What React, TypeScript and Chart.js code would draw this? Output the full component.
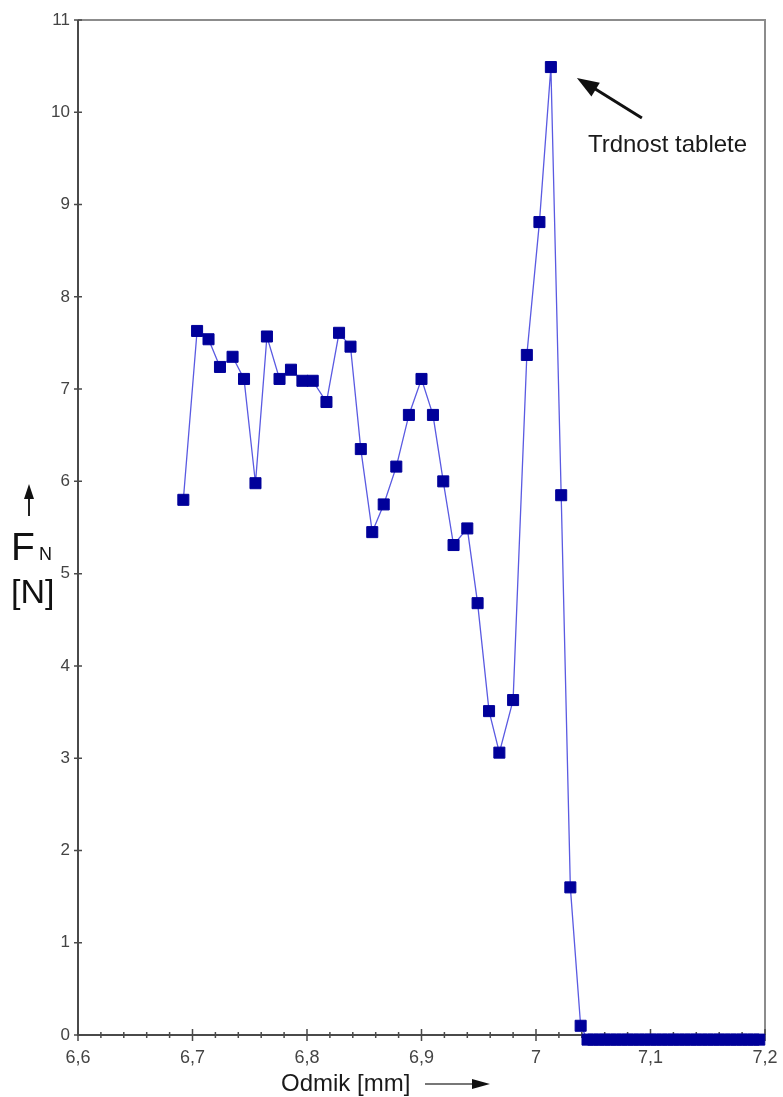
import React, { useEffect, useRef } from 'react';
import { Chart, registerables } from 'chart.js';

Chart.register(...registerables);

const FONT = '"Liberation Sans", Arial, Helvetica, sans-serif';

// Measured force curve (Odmik [mm] vs F_N [N])
const measX = [
  6.692, 6.704, 6.714, 6.724, 6.735, 6.745, 6.755, 6.765, 6.776, 6.786,
  6.796, 6.805, 6.817, 6.828, 6.838, 6.847, 6.857, 6.867, 6.878, 6.889,
  6.9, 6.91, 6.919, 6.928, 6.94, 6.949, 6.959, 6.968, 6.98, 6.992,
  7.003, 7.013, 7.022, 7.03, 7.039,
];
const measY = [
  5.8, 7.63, 7.54, 7.24, 7.35, 7.11, 5.98, 7.57, 7.11, 7.21,
  7.09, 7.09, 6.86, 7.61, 7.46, 6.35, 5.45, 5.75, 6.16, 6.72,
  7.11, 6.72, 6.0, 5.31, 5.49, 4.68, 3.51, 3.06, 3.63, 7.37,
  8.81, 10.49, 5.85, 1.6, 0.1,
];
// After the tablet breaks: readings at ~zero
const brokenX = [
  7.045, 7.05, 7.055, 7.06, 7.065, 7.07, 7.075, 7.08, 7.085, 7.09,
  7.095, 7.1, 7.105, 7.11, 7.115, 7.12, 7.125, 7.13, 7.135, 7.14,
  7.145, 7.15, 7.155, 7.16, 7.165, 7.17, 7.175, 7.18, 7.185, 7.19, 7.195,
];
const brokenY = [
  -0.05, -0.05, -0.05, -0.05, -0.05, -0.05, -0.05, -0.05, -0.05, -0.05,
  -0.05, -0.05, -0.05, -0.05, -0.05, -0.05, -0.05, -0.05, -0.05, -0.05,
  -0.05, -0.05, -0.05, -0.05, -0.05, -0.05, -0.05, -0.05, -0.05, -0.05, -0.05,
];

const xTickValues = [6.6, 6.7, 6.8, 6.9, 7.0, 7.1, 7.2];
const xTickLabels = ['6,6', '6,7', '6,8', '6,9', '7', '7,1', '7,2'];
const yTickValues = [0, 1, 2, 3, 4, 5, 6, 7, 8, 9, 10, 11];
const yTickLabels = ['0', '1', '2', '3', '4', '5', '6', '7', '8', '9', '10', '11'];
const xMinorPerMajor = 5;
const peakIndex = 31;
const annotationText = 'Trdnost tablete';
const xTitle = 'Odmik [mm]';

function arrowHead(ctx: CanvasRenderingContext2D, tx: number, ty: number, fx: number, fy: number, len: number, half: number) {
  const a = Math.atan2(ty - fy, tx - fx);
  ctx.beginPath();
  ctx.moveTo(tx, ty);
  ctx.lineTo(tx - len * Math.cos(a) + half * Math.sin(a), ty - len * Math.sin(a) - half * Math.cos(a));
  ctx.lineTo(tx - len * Math.cos(a) - half * Math.sin(a), ty - len * Math.sin(a) + half * Math.cos(a));
  ctx.closePath();
  ctx.fill();
}

const decor = {
  id: 'decor',
  beforeDatasetsDraw(chart: any) {
    const { ctx, chartArea } = chart;
    const { left, right, top, bottom } = chartArea;
    const xs = chart.scales.x;
    const ys = chart.scales.y;
    ctx.save();
    // top + right frame
    ctx.strokeStyle = '#8c8c8c';
    ctx.lineWidth = 2;
    ctx.beginPath();
    ctx.moveTo(left, top);
    ctx.lineTo(right, top);
    ctx.lineTo(right, bottom);
    ctx.stroke();
    // axes
    ctx.strokeStyle = '#4a4a4a';
    ctx.beginPath();
    ctx.moveTo(left, top);
    ctx.lineTo(left, bottom);
    ctx.lineTo(right, bottom);
    ctx.stroke();
    // y ticks (crossing)
    ctx.lineWidth = 1.5;
    ctx.beginPath();
    for (const v of yTickValues) {
      const p = ys.getPixelForValue(v);
      ctx.moveTo(left - 4, p);
      ctx.lineTo(left + 4, p);
    }
    ctx.stroke();
    // x ticks
    ctx.beginPath();
    for (let i = 0; i < xTickValues.length; i++) {
      const p = xs.getPixelForValue(xTickValues[i]);
      ctx.moveTo(p, bottom - 6);
      ctx.lineTo(p, bottom + 6);
      if (i < xTickValues.length - 1) {
        const step = (xTickValues[i + 1] - xTickValues[i]) / xMinorPerMajor;
        for (let k = 1; k < xMinorPerMajor; k++) {
          const q = xs.getPixelForValue(xTickValues[i] + step * k);
          ctx.moveTo(q, bottom - 3);
          ctx.lineTo(q, bottom + 3);
        }
      }
    }
    ctx.stroke();
    ctx.restore();
  },
  afterDraw(chart: any) {
    const { ctx } = chart;
    const meta = chart.getDatasetMeta(0);
    const peak = meta.data[peakIndex];
    ctx.save();
    // annotation arrow
    const tipX = peak.x + 26, tipY = peak.y + 11;
    const tailX = peak.x + 91, tailY = peak.y + 51;
    ctx.strokeStyle = '#111';
    ctx.fillStyle = '#111';
    ctx.lineWidth = 3;
    ctx.beginPath();
    ctx.moveTo(tailX, tailY);
    ctx.lineTo(tipX + 12, tipY + 7);
    ctx.stroke();
    arrowHead(ctx, tipX, tipY, tailX, tailY, 22, 8);
    ctx.font = `24px ${FONT}`;
    ctx.textBaseline = 'alphabetic';
    ctx.textAlign = 'left';
    ctx.fillStyle = '#1a1a1a';
    ctx.fillText(annotationText, peak.x + 37, peak.y + 85);

    // x axis title + arrow
    ctx.font = `24px ${FONT}`;
    ctx.fillText(xTitle, 281, 1091);
    ctx.strokeStyle = '#777';
    ctx.lineWidth = 2;
    ctx.beginPath();
    ctx.moveTo(425, 1084);
    ctx.lineTo(475, 1084);
    ctx.stroke();
    ctx.fillStyle = '#111';
    arrowHead(ctx, 490, 1084, 425, 1084, 18, 5);

    // y axis title
    ctx.strokeStyle = '#222';
    ctx.lineWidth = 2;
    ctx.beginPath();
    ctx.moveTo(29, 516);
    ctx.lineTo(29, 496);
    ctx.stroke();
    arrowHead(ctx, 29, 484, 29, 516, 15, 5);
    ctx.fillStyle = '#111';
    ctx.font = `39px ${FONT}`;
    ctx.fillText('F', 11, 560);
    ctx.font = `18px ${FONT}`;
    ctx.fillText('N', 39, 560);
    ctx.font = `34px ${FONT}`;
    ctx.fillText('[N]', 11, 603);
    ctx.restore();
  },
};

export default function App() {
  const ref = useRef<HTMLCanvasElement>(null);
  useEffect(() => {
    const data = [
      ...measX.map((x, i) => ({ x, y: measY[i] })),
      ...brokenX.map((x, i) => ({ x, y: brokenY[i] })),
    ];
    const chart = new Chart(ref.current!, {
      type: 'scatter',
      data: {
        datasets: [
          {
            data,
            showLine: true,
            borderColor: '#5a5ae2',
            borderWidth: 1.3,
            pointStyle: 'rect',
            pointRadius: 7.8,
            pointBackgroundColor: '#00009a',
            pointBorderColor: '#00009a',
            pointBorderWidth: 1,
            clip: false,
          } as any,
        ],
      },
      options: {
        animation: false,
        responsive: false,
        maintainAspectRatio: false,
        layout: { padding: { top: 20, right: 18, left: 0, bottom: 0 } },
        plugins: { legend: { display: false }, tooltip: { enabled: false } },
        scales: {
          x: {
            type: 'linear',
            min: 6.6,
            max: 7.2,
            afterBuildTicks: (s: any) => {
              s.ticks = xTickValues.map((v) => ({ value: v }));
            },
            afterFit: (s: any) => {
              s.height = 62;
              s.paddingLeft = 0;
              s.paddingRight = 0;
            },
            ticks: {
              callback: (_v: any, i: number) => xTickLabels[i],
              font: { family: FONT, size: 18 },
              color: '#444',
              padding: 12,
              maxRotation: 0,
              autoSkip: false,
            },
            grid: { display: false, drawTicks: false },
            border: { display: false },
          },
          y: {
            type: 'linear',
            min: 0,
            max: 11,
            afterBuildTicks: (s: any) => {
              s.ticks = yTickValues.map((v) => ({ value: v }));
            },
            afterFit: (s: any) => {
              s.width = 78;
              s.paddingTop = 0;
              s.paddingBottom = 0;
            },
            ticks: {
              callback: (_v: any, i: number) => yTickLabels[i],
              font: { family: FONT, size: 17 },
              color: '#444',
              padding: 8,
              autoSkip: false,
            },
            grid: { display: false, drawTicks: false },
            border: { display: false },
          },
        },
      },
      plugins: [decor],
    });
    return () => chart.destroy();
  }, []);
  return (
    <div style={{ position: 'absolute', left: 0, top: 0, width: 783, height: 1097, background: '#fff' }}>
      <canvas ref={ref} width={783} height={1097} style={{ display: 'block', width: 783, height: 1097 }} />
    </div>
  );
}
